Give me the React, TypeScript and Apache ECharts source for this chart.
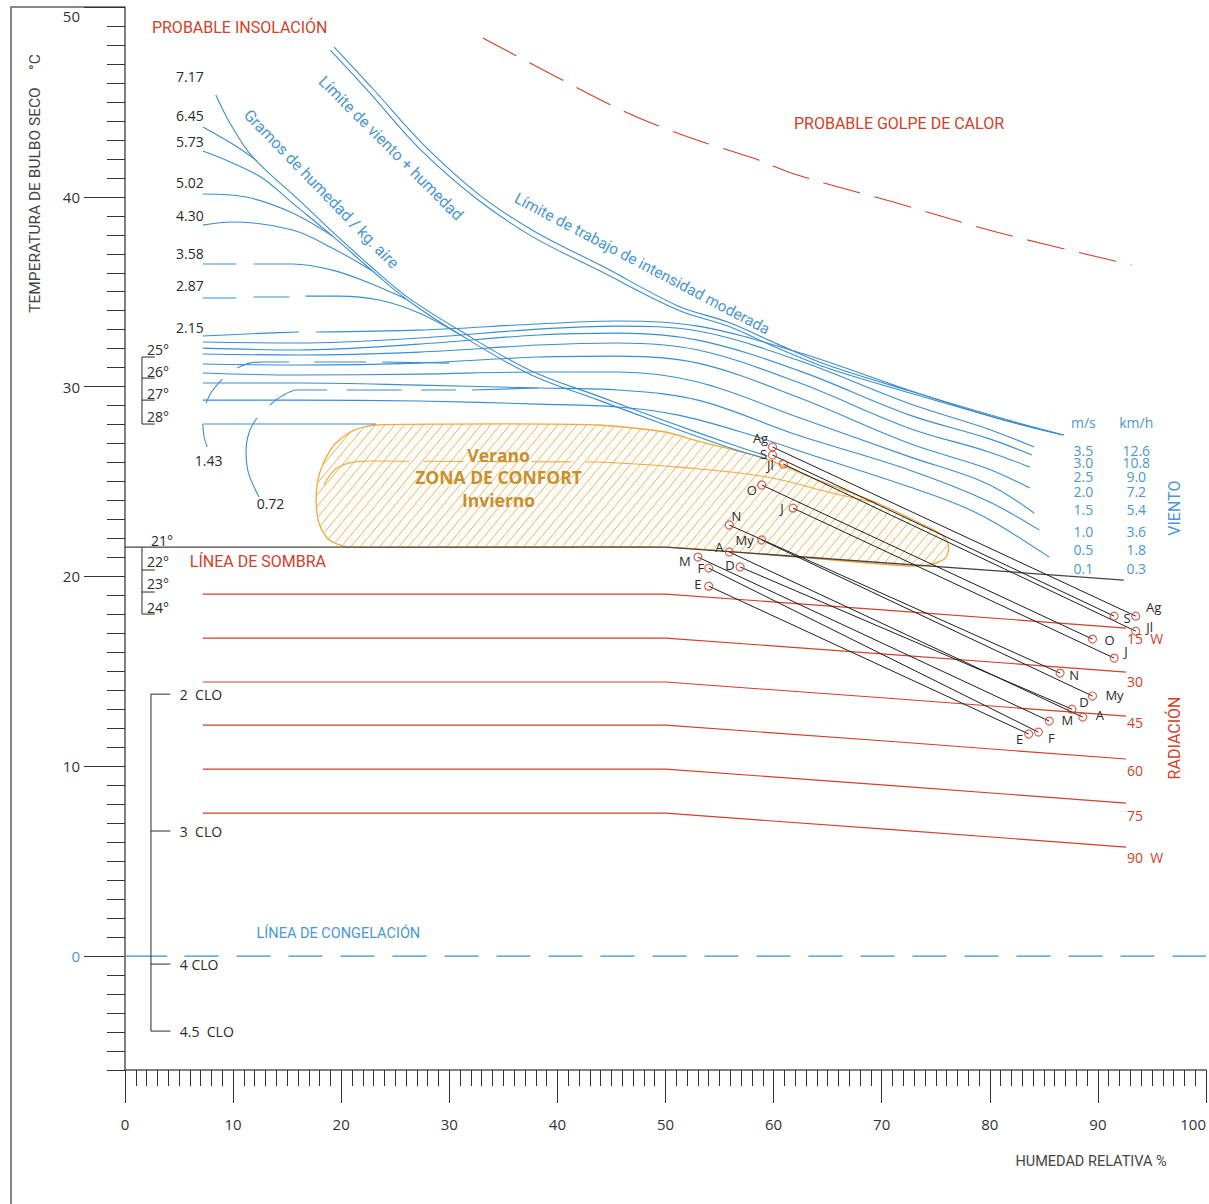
import React, { useEffect, useRef } from 'react';
import * as echarts from 'echarts';

const BLUE = '#3a8dd0';
const BLUE_TXT = '#4a97d6';
const RED = '#d23f2a';
const ORANGE = '#f3a93c';
const ORANGE_TXT = '#c98f2d';
const INK = '#2a2a2a';
const AXIS = '#555';
const FONT_NUM = "'Open Sans', 'DejaVu Sans', sans-serif";
const FONT_TXT = "Roboto, 'Open Sans', sans-serif";

// ---- axes ----
const RH_MIN = 0;
const RH_MAX = 100;
const T_MIN = -6;
const T_MAX = 50;

// ---- humidity (g/kg) curves ----
const hum717 = [[8.4, 45.36], [9.7, 43.89], [11.8, 42.1], [16.1, 39.83], [19.2, 38.15], [22.9, 36.25], [26.0, 34.77], [30.9, 32.98], [37.6, 30.82], [43.8, 29.5], [50.0, 28.19], [56.0, 26.98], [59.4, 26.34]];
const hum645 = [[7.2, 43.68], [9.95, 42.78], [12.2, 41.9]];
const hum573 = [[7.2, 42.41], [9.95, 41.78], [12.7, 40.99], [15.5, 39.67], [19.2, 37.93], [22.9, 36.09], [26.0, 34.62], [30.9, 32.77], [37.6, 30.61], [43.8, 29.29], [50.0, 27.98], [56.0, 26.77], [59.4, 26.19]];
const hum502 = [[7.2, 40.15], [11.2, 39.99], [15.5, 39.15], [19.2, 37.93]];
const hum430 = [[7.2, 38.51], [9.95, 38.67], [15.5, 38.25], [19.5, 37.2], [22.9, 36.09]];
const hum358Dash = [[7.2, 36.46], [10.3, 36.46]];
const hum358 = [[11.9, 36.46], [15.5, 36.46], [19.2, 36.14], [22.6, 35.46], [26.0, 34.62]];
const hum287DashA = [[7.2, 34.67], [10.3, 34.67]];
const hum287DashB = [[11.9, 34.72], [15.2, 34.72]];
const hum287 = [[16.7, 34.77], [19.8, 34.77], [23.5, 34.56], [27.2, 33.88], [30.9, 32.77]];
const hum143Low = [[7.2, 28.03], [7.3, 27.4], [7.6, 26.82]];
const hum143Up = [[7.5, 29.13], [8.0, 29.72], [9.0, 30.4]];
const hum143Top = [[10.4, 30.98], [11.5, 31.24], [12.9, 31.3], [15.2, 31.3]];
const hum143DashA = [[17.5, 31.3], [22.3, 31.3]];
const hum143DashB = [[23.8, 31.3], [30.0, 31.24]];
const hum072Low = [[12.4, 24.18], [11.4, 25.5], [11.2, 26.66], [11.5, 27.61], [12.2, 28.35]];
const hum072Up = [[13.4, 29.03], [14.5, 29.5], [15.9, 29.82], [18.7, 29.82]];
const hum072DashA = [[20.5, 29.82], [25.6, 29.82]];
const hum072DashB = [[27.4, 29.82], [30.6, 29.82]];
const hum072Tail = [[32.1, 29.82], [38.2, 29.93]];
const humLabels = ['7.17', '6.45', '5.73', '5.02', '4.30', '3.58', '2.87', '2.15', '1.43', '0.72'];
const humLabelRH = [6.0, 6.0, 6.0, 6.0, 6.0, 6.0, 6.0, 6.0, 7.74, 13.46];
const humLabelT = [46.36, 44.26, 42.94, 40.73, 39.04, 36.99, 35.35, 33.14, 26.13, 23.87];

// ---- wind curves (m/s) ----
const wind35Start = [[7.2, 32.67], [13.1, 32.82], [16.1, 32.88]];
const wind35 = [[17.7, 32.88], [27.2, 32.98], [38.2, 33.3], [45.6, 33.46], [53.0, 33.19], [62.2, 31.82], [72.6, 29.8], [80.6, 28.35], [86.8, 27.45]];
const wind30 = [[7.2, 32.35], [16.1, 32.3], [27.2, 32.56], [38.2, 33.03], [45.6, 33.19], [53.0, 32.93], [62.2, 31.4], [72.6, 29.1], [79.7, 27.8], [84.1, 26.82]];
const wind25 = [[7.2, 32.03], [16.1, 31.93], [27.2, 32.24], [38.2, 32.72], [45.6, 32.82], [53.0, 32.45], [62.2, 30.87], [72.6, 28.5], [79.7, 27.3], [83.9, 26.4]];
const wind20 = [[7.2, 31.72], [16.1, 31.67], [27.2, 31.82], [38.2, 32.19], [45.6, 32.3], [53.0, 31.93], [62.2, 30.24], [72.6, 27.8], [79.7, 26.6], [83.7, 25.76]];
const wind15 = [[7.2, 31.19], [16.1, 31.14], [27.2, 31.24], [38.2, 31.56], [45.6, 31.61], [53.0, 31.24], [62.2, 29.45], [72.6, 27.0], [79.7, 25.7], [83.7, 24.66]];
const wind10 = [[7.2, 30.72], [16.1, 30.61], [27.2, 30.66], [38.2, 30.77], [45.6, 30.77], [53.0, 30.24], [62.2, 28.4], [72.6, 26.3], [79.7, 24.9], [84.1, 23.34]];
const wind05 = [[7.2, 30.19], [16.1, 30.19], [27.2, 30.08], [38.2, 29.93], [45.6, 29.82], [53.0, 29.29], [62.2, 27.45], [72.6, 25.6], [79.7, 24.0], [84.6, 22.44]];
const wind01 = [[7.2, 29.29], [16.1, 29.29], [27.2, 29.24], [38.2, 29.08], [45.6, 28.93], [51.2, 28.5], [57.3, 27.56], [64.1, 26.29], [72.6, 24.71], [78.8, 23.34], [85.5, 21.02]];
const windMs = ['3.5', '3.0', '2.5', '2.0', '1.5', '1.0', '0.5', '0.1'];
const windKmh = ['12.6', '10.8', '9.0', '7.2', '5.4', '3.6', '1.8', '0.3'];
const windLabelT = [26.66, 26.03, 25.29, 24.45, 23.55, 22.39, 21.44, 20.44];
const windMsRH = 88.66;
const windKmhRH = 93.55;

// ---- limits ----
const limitA = [[18.99, 47.73], [22.58, 45.52], [27.19, 42.57], [32.44, 39.94], [37.6, 37.93], [43.78, 36.14], [51.15, 34.04], [55.76, 33.19], [60.37, 32.03], [64.98, 30.98], [72.63, 29.66], [80.65, 28.35], [86.82, 27.45]];
const limitB = [[19.35, 47.89], [22.95, 45.68], [27.56, 42.78], [32.81, 40.09], [37.97, 38.15], [44.15, 36.35], [51.15, 34.25], [55.76, 33.4], [60.37, 32.24], [64.98, 31.14], [72.63, 29.77], [80.65, 28.41], [86.82, 27.45]];
const heatStroke = [[33.1, 48.37], [40.1, 46.26], [46.5, 44.42], [52.1, 43.15], [58.1, 42.04], [62.2, 41.15], [71.4, 39.67], [80.6, 38.15], [93.1, 36.41]];

// ---- comfort zone ----
const comfortRH = [20.7, 18.9, 18.0, 17.7, 17.8, 18.4, 19.5, 21.2, 23.2, 30.0, 39.2, 43.8, 50.0, 53.0, 58.8, 64.1, 69.6, 73.7, 75.6, 76.2, 75.9, 74.7, 72.6, 62.2, 50.0];
const comfortT = [21.55, 21.92, 22.71, 23.76, 24.97, 26.03, 27.03, 27.71, 27.98, 28.03, 28.03, 27.98, 27.61, 27.13, 26.29, 25.08, 23.87, 22.76, 22.18, 21.6, 20.97, 20.65, 20.55, 21.02, 21.55];
const comfortTopBlue = [[7.2, 28.03], [23.2, 28.03]];
const dividerArc = [[18.4, 24.82], [19.4, 25.61], [20.7, 25.97], [22.6, 26.08]];
const dividerDash = [[22.6, 26.08], [43.8, 26.03]];
const dividerTail = [[43.8, 26.03], [51.2, 25.76], [59.4, 25.24], [65.0, 24.45], [69.6, 23.87]];

// ---- shade line & radiation ----
const shadeLine = [[0, 21.55], [50, 21.55], [92.4, 19.81]];
const radLabels = ['15  W', '30', '45', '60', '75', '90  W'];
const radLeftT = [19.07, 16.75, 14.44, 12.17, 9.85, 7.53];
const radRightT = [17.28, 14.96, 12.64, 10.38, 8.06, 5.74];
const radRH = [7.2, 50, 92.6];
const radLabelT = [16.75, 14.49, 12.33, 9.8, 7.43, 5.22];
const radLabelRH = 92.7;

// ---- freezing line ----
const freezeSolid = [[-3.8, 0], [3.9, 0]];
const freezeDash = [[5.5, 0], [100, 0]];

// ---- brackets ----
const bracketRH = 1.57;
const bracketTickRH = 2.76;
const upperBracketT = [31.56, 30.45, 29.29, 28.03];
const upperBracketLabels = ['25°', '26°', '27°', '28°'];
const upperBracketLabelT = [31.98, 30.82, 29.66, 28.45];
const lowerBracketT = [21.55, 20.34, 19.18, 18.02];
const lowerBracketLabels = ['21°', '22°', '23°', '24°'];
const lowerBracketLabelT = [21.92, 20.81, 19.65, 18.39];
const cloRH = 2.4;
const cloTickRH = 4.2;
const cloT = [13.8, 6.59, -0.42, -3.95];
const cloLabels = ['2  CLO', '3  CLO', '4 CLO', '4.5  CLO'];

// ---- months ----
const months = ['E', 'F', 'M', 'A', 'My', 'J', 'Jl', 'Ag', 'S', 'O', 'N', 'D'];
const monthStartRH = [54.0, 54.0, 53.0, 55.9, 58.9, 61.8, 60.9, 59.9, 59.9, 58.9, 55.9, 56.9];
const monthStartT = [19.49, 20.44, 21.02, 21.29, 21.92, 23.6, 25.92, 26.82, 26.4, 24.82, 22.71, 20.5];
const monthEndRH = [83.6, 84.5, 85.5, 88.6, 89.5, 91.5, 93.5, 93.5, 91.5, 89.5, 86.5, 87.6];
const monthEndT = [11.7, 11.8, 12.38, 12.59, 13.7, 15.7, 17.12, 17.91, 17.91, 16.7, 14.91, 13.01];
// label offsets in pixels (style)
const startOff: number[][] = [[-11, -2], [-8, 0], [-13, 4], [-10, -5], [-17, 0], [-11, 0], [-13, 1], [-12, -9], [-9, -1], [-10, 5], [7, -9], [-10, -2]];
const endOff: number[][] = [[-9, 5], [13, 6], [18, -1], [17, -2], [22, -1], [12, -7], [14, -4], [18, -9], [13, 2], [17, 1], [14, 2], [12, -7]];

type Txt = [string, number, number];

function line(data: number[][], color: string, width = 1.1, extra: any = {}) {
  return {
    type: 'line',
    xAxisIndex: 0,
    yAxisIndex: 0,
    data,
    symbol: 'none',
    silent: true,
    smooth: extra.smooth ?? 0,
    clip: extra.clip ?? true,
    z: extra.z ?? 3,
    lineStyle: { color, width, type: extra.dash ?? 'solid', cap: 'butt' },
  };
}

function textSeries(items: Txt[], opt: any) {
  return {
    type: 'custom',
    coordinateSystem: 'cartesian2d',
    xAxisIndex: 0,
    yAxisIndex: 0,
    silent: true,
    clip: false,
    z: opt.z ?? 20,
    data: items.map((it, i) => [it[1], it[2], i]),
    renderItem: (_p: any, api: any) => {
      const i = api.value(2);
      const pt = api.coord([api.value(0), api.value(1)]);
      const align = opt.align ?? 'center';
      return {
        type: 'text',
        x: pt[0],
        y: pt[1],
        rotation: opt.rotation ?? 0,
        style: {
          text: items[i][0],
          fill: opt.color,
          fontSize: opt.size,
          fontFamily: opt.family ?? FONT_TXT,
          fontWeight: opt.weight ?? 'normal',
          align,
          verticalAlign: 'middle',
          textAlign: align,
          textVerticalAlign: 'middle',
        },
      };
    },
  };
}

function buildOption() {
  const series: any[] = [];

  // comfort zone hatch
  series.push({
    type: 'custom',
    coordinateSystem: 'cartesian2d',
    xAxisIndex: 0,
    yAxisIndex: 0,
    silent: true,
    z: 1,
    data: [[comfortRH[0], comfortT[0]]],
    renderItem: (_p: any, api: any) => {
      const pts = comfortRH.map((x, i) => api.coord([x, comfortT[i]]));
      const k = 1.2;
      const step = 9.6 * k;
      let cmin = Infinity;
      let cmax = -Infinity;
      for (const p of pts) {
        const c = p[1] + k * p[0];
        cmin = Math.min(cmin, c);
        cmax = Math.max(cmax, c);
      }
      const children: any[] = [];
      for (let c = Math.ceil(cmin / step) * step; c < cmax; c += step) {
        const xs: number[][] = [];
        for (let i = 0; i < pts.length; i++) {
          const a = pts[i];
          const b = pts[(i + 1) % pts.length];
          const fa = a[1] + k * a[0] - c;
          const fb = b[1] + k * b[0] - c;
          if ((fa < 0) !== (fb < 0)) {
            const t = fa / (fa - fb);
            xs.push([a[0] + t * (b[0] - a[0]), a[1] + t * (b[1] - a[1])]);
          }
        }
        xs.sort((p, q) => p[0] - q[0]);
        for (let j = 0; j + 1 < xs.length; j += 2) {
          children.push({
            type: 'line',
            shape: { x1: xs[j][0], y1: xs[j][1], x2: xs[j + 1][0], y2: xs[j + 1][1] },
            style: { stroke: ORANGE, lineWidth: 0.9 },
          });
        }
      }
      children.push({
        type: 'polygon',
        shape: { points: pts, smooth: 0.25 },
        style: { fill: 'none', stroke: ORANGE, lineWidth: 1.3 },
      });
      return { type: 'group', children };
    },
  });
  series.push(line(dividerArc, ORANGE, 1.1, { smooth: 0.4 }));
  series.push(line(dividerDash, ORANGE, 1.1, { dash: [40, 14] }));
  series.push(line(dividerTail, ORANGE, 1.1, { smooth: 0.4 }));

  // wind curves
  [wind35Start, wind35, wind30, wind25, wind20, wind15, wind10, wind05, wind01].forEach((d) =>
    series.push(line(d, BLUE, 1.1, { smooth: 0.35 }))
  );
  series.push(line(comfortTopBlue, BLUE, 1.1));

  // humidity curves
  [hum717, hum645, hum573, hum502, hum430, hum358, hum287, hum143Low, hum143Up, hum143Top, hum072Low, hum072Up, hum072Tail].forEach((d) =>
    series.push(line(d, BLUE, 1.1, { smooth: 0.35 }))
  );
  [hum358Dash, hum287DashA, hum287DashB, hum143DashA, hum143DashB, hum072DashA, hum072DashB].forEach((d) =>
    series.push(line(d, BLUE, 1.1))
  );

  // limits
  series.push(line(limitA, BLUE, 1.1, { smooth: 0.35 }));
  series.push(line(limitB, BLUE, 1.1, { smooth: 0.35 }));
  series.push(line(heatStroke, RED, 1.1, { smooth: 0.35, dash: [38, 15] }));

  // shade & radiation
  series.push(line(shadeLine, '#444', 1.3, { z: 4 }));
  radLeftT.forEach((t, i) => {
    series.push(line([[radRH[0], t], [radRH[1], t], [radRH[2], radRightT[i]]], RED, 1.1, { smooth: 0.02 }));
  });

  // freezing line
  series.push(line(freezeSolid, BLUE, 1.1, { clip: false }));
  series.push(line(freezeDash, BLUE, 1.1, { dash: [34, 18] }));

  // brackets
  series.push(line([[bracketRH, upperBracketT[0]], [bracketRH, upperBracketT[3]]], INK, 1));
  upperBracketT.forEach((t) => series.push(line([[bracketRH, t], [bracketTickRH, t]], INK, 1)));
  series.push(line([[bracketRH, lowerBracketT[0]], [bracketRH, lowerBracketT[3]]], INK, 1));
  lowerBracketT.slice(1).forEach((t) => series.push(line([[bracketRH, t], [bracketTickRH, t]], INK, 1)));
  series.push(line([[cloRH, cloT[0]], [cloRH, cloT[3]]], INK, 1));
  cloT.forEach((t) => series.push(line([[cloRH, t], [cloTickRH, t]], INK, 1)));

  // months
  months.forEach((_m, i) => {
    series.push(line([[monthStartRH[i], monthStartT[i]], [monthEndRH[i], monthEndT[i]]], '#1e1e1e', 1, { z: 6 }));
  });
  const monthPts: number[][] = [];
  months.forEach((_m, i) => {
    monthPts.push([monthStartRH[i], monthStartT[i]]);
    monthPts.push([monthEndRH[i], monthEndT[i]]);
  });
  series.push({
    type: 'scatter',
    xAxisIndex: 0,
    yAxisIndex: 0,
    silent: true,
    z: 8,
    symbol: 'circle',
    symbolSize: 8,
    data: monthPts,
    itemStyle: { color: 'rgba(255,255,255,0)', borderColor: RED, borderWidth: 1.2 },
  });
  series.push({
    type: 'custom',
    coordinateSystem: 'cartesian2d',
    xAxisIndex: 0,
    yAxisIndex: 0,
    silent: true,
    z: 9,
    data: months.flatMap((_m, i) => [
      [monthStartRH[i], monthStartT[i], i, 0],
      [monthEndRH[i], monthEndT[i], i, 1],
    ]),
    renderItem: (_p: any, api: any) => {
      const i = api.value(2);
      const isEnd = api.value(3);
      const pt = api.coord([api.value(0), api.value(1)]);
      const off = isEnd ? endOff[i] : startOff[i];
      return {
        type: 'text',
        x: pt[0] + off[0],
        y: pt[1] + off[1],
        style: {
          text: months[i],
          fill: INK,
          fontSize: 13,
          fontFamily: FONT_NUM,
          align: 'center',
          verticalAlign: 'middle',
          textAlign: 'center',
          textVerticalAlign: 'middle',
        },
      };
    },
  });

  // texts
  series.push(textSeries(humLabels.map((t, i) => [t, humLabelRH[i], humLabelT[i]] as Txt), { color: INK, size: 14, family: FONT_NUM }));
  series.push(textSeries(upperBracketLabels.map((t, i) => [t, 2.03, upperBracketLabelT[i]] as Txt), { color: INK, size: 14, family: FONT_NUM, align: 'left' }));
  series.push(textSeries(lowerBracketLabels.map((t, i) => [t, i === 0 ? 2.4 : 2.03, lowerBracketLabelT[i]] as Txt), { color: INK, size: 14, family: FONT_NUM, align: 'left' }));
  series.push(textSeries(cloLabels.map((t, i) => [t, 5.07, cloT[i]] as Txt), { color: INK, size: 14, family: FONT_NUM, align: 'left' }));
  series.push(textSeries(radLabels.map((t, i) => [t, radLabelRH, radLabelT[i]] as Txt), { color: RED, size: 14, family: FONT_NUM, align: 'left' }));
  series.push(textSeries(windMs.map((t, i) => [t, windMsRH, windLabelT[i]] as Txt), { color: BLUE_TXT, size: 14, family: FONT_NUM }));
  series.push(textSeries(windKmh.map((t, i) => [t, windKmhRH, windLabelT[i]] as Txt), { color: BLUE_TXT, size: 14, family: FONT_NUM }));
  series.push(textSeries([['m/s', windMsRH, 28.13], ['km/h', windKmhRH, 28.13]], { color: BLUE_TXT, size: 14, family: FONT_NUM }));
  series.push(textSeries([['PROBABLE INSOLACIÓN', 2.49, 48.9], ['LÍNEA DE SOMBRA', 6.0, 20.81]], { color: RED, size: 16, align: 'left' }));
  series.push(textSeries([['PROBABLE GOLPE DE CALOR', 71.6, 43.84]], { color: RED, size: 16 }));
  series.push(textSeries([['RADIACIÓN', 97.1, 11.49]], { color: RED, size: 16, rotation: Math.PI / 2 }));
  series.push(textSeries([['VIENTO', 97.1, 23.6]], { color: BLUE_TXT, size: 16, rotation: Math.PI / 2 }));
  series.push(textSeries([['LÍNEA DE CONGELACIÓN', 12.17, 1.21]], { color: BLUE_TXT, size: 14.5, align: 'left' }));
  series.push(textSeries([['Límite de viento + humedad', 24.6, 42.57]], { color: BLUE_TXT, size: 16, rotation: -Math.PI / 4 }));
  series.push(textSeries([['Gramos de humedad / kg. aire', 18.16, 40.41]], { color: BLUE_TXT, size: 16, rotation: -0.8 }));
  series.push(textSeries([['Límite de trabajo de intensidad moderada', 47.83, 36.46]], { color: BLUE_TXT, size: 15.5, rotation: -0.485 }));
  series.push(textSeries([['Verano', 34.56, 26.4], ['ZONA DE CONFORT', 34.56, 25.24], ['Invierno', 34.56, 24.03]], { color: ORANGE_TXT, size: 17.5, family: FONT_NUM, weight: 'bold' }));

  return {
    animation: false,
    backgroundColor: '#fff',
    grid: [
      { left: 125, top: 7, width: 1085, height: 1063, containLabel: false },
      { left: 125, top: 7, width: 1085, height: 949, containLabel: false },
    ],
    xAxis: [
      {
        type: 'value',
        gridIndex: 0,
        min: RH_MIN,
        max: RH_MAX,
        interval: 10,
        position: 'bottom',
        axisLine: { onZero: false, lineStyle: { color: AXIS, width: 1.5 } },
        axisTick: { length: 33, lineStyle: { color: '#333', width: 1 } },
        minorTick: { show: true, splitNumber: 10, length: 16, lineStyle: { color: '#333', width: 1 } },
        axisLabel: { margin: 46, color: '#333', fontSize: 15, fontFamily: FONT_NUM, alignMaxLabel: 'right' },
        splitLine: { show: false },
        minorSplitLine: { show: false },
      },
      { type: 'value', gridIndex: 1, min: RH_MIN, max: RH_MAX, show: false },
    ],
    yAxis: [
      {
        type: 'value',
        gridIndex: 0,
        min: T_MIN,
        max: T_MAX,
        interval: 1,
        axisLine: { onZero: false, lineStyle: { color: AXIS, width: 1.5 } },
        axisTick: { length: 18, lineStyle: { color: '#333', width: 1 } },
        axisLabel: { show: false },
        splitLine: { show: false },
      },
      {
        type: 'value',
        gridIndex: 1,
        min: 0,
        max: T_MAX,
        interval: 10,
        axisLine: { show: false, onZero: false },
        axisTick: { length: 41, lineStyle: { color: '#333', width: 1 } },
        splitLine: { show: false },
        axisLabel: {
          margin: 45,
          formatter: (v: number) => (v === 50 ? '{t|50}' : v === 0 ? '{b|0}' : '{n|' + v + '}'),
          rich: {
            t: { padding: [18, 0, 0, 0], color: '#333', fontSize: 15, fontFamily: FONT_NUM },
            b: { color: BLUE_TXT, fontSize: 15, fontFamily: FONT_NUM },
            n: { color: '#333', fontSize: 15, fontFamily: FONT_NUM },
          },
        },
      },
    ],
    graphic: [
      { type: 'line', shape: { x1: 11, y1: 7, x2: 125, y2: 7 }, style: { stroke: '#888', lineWidth: 2 } },
      { type: 'line', shape: { x1: 11, y1: 6, x2: 11, y2: 1204 }, style: { stroke: '#888', lineWidth: 2 } },
      {
        type: 'text',
        x: 35,
        y: 200,
        rotation: Math.PI / 2,
        style: { text: 'TEMPERATURA DE BULBO SECO', fill: '#444', fontSize: 15.5, fontFamily: FONT_TXT, align: 'center', verticalAlign: 'middle', textAlign: 'center', textVerticalAlign: 'middle' },
      },
      {
        type: 'text',
        x: 35,
        y: 62,
        rotation: Math.PI / 2,
        style: { text: '°C', fill: '#444', fontSize: 15.5, fontFamily: FONT_TXT, align: 'center', verticalAlign: 'middle', textAlign: 'center', textVerticalAlign: 'middle' },
      },
      {
        type: 'text',
        x: 1091,
        y: 1161,
        style: { text: 'HUMEDAD RELATIVA %', fill: '#444', fontSize: 14.5, fontFamily: FONT_TXT, align: 'center', verticalAlign: 'middle', textAlign: 'center', textVerticalAlign: 'middle' },
      },
    ],
    series,
  };
}

export default function App() {
  const ref = useRef<HTMLDivElement>(null);
  useEffect(() => {
    if (!ref.current) return;
    const chart = echarts.init(ref.current, undefined, { renderer: 'svg' });
    chart.setOption(buildOption() as any);
    return () => chart.dispose();
  }, []);
  return (
    <div
      ref={ref}
      style={{ position: 'absolute', left: 0, top: 0, width: 1209, height: 1204, background: '#fff' }}
    />
  );
}
